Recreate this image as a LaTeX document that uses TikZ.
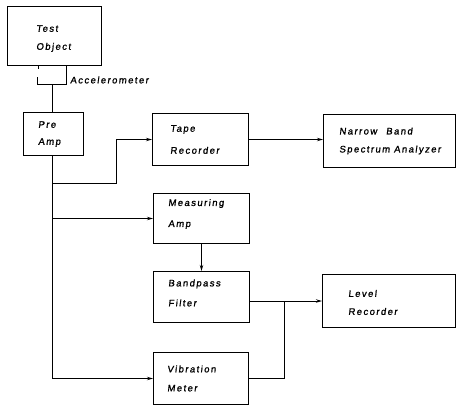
\documentclass[tikz,border=0pt]{standalone}
\usepackage{fontspec}
\setmainfont{Liberation Sans}[LetterSpace=15, FakeSlant=0.12, FakeBold=1.2]
\usetikzlibrary{arrows.meta}
\newcommand{\lf}[1]{\fontsize{9.5}{#1}\selectfont}
\begin{document}
\begin{tikzpicture}[x=1pt,y=-1pt,
  box/.style={draw, line width=1pt, inner sep=0pt, anchor=north west},
  txt/.style={align=left, inner sep=0pt, anchor=west, font=\lf{19}},
  wire/.style={line width=1pt},
  arr/.style={wire, -{Stealth[length=6pt,width=3.4pt]}}]
\useasboundingbox (0,0) rectangle (458,405);
% boxes
\node[box, minimum width=94pt, minimum height=59pt] (test) at (7,6) {};
\node[box, minimum width=60pt, minimum height=43pt] (pre) at (23,112) {};
\node[box, minimum width=96pt, minimum height=52pt] (tape) at (152,113) {};
\node[box, minimum width=132pt, minimum height=53pt] (nb) at (323,114) {};
\node[box, minimum width=96pt, minimum height=50pt] (meas) at (153,193) {};
\node[box, minimum width=96pt, minimum height=51pt] (bp) at (153,271) {};
\node[box, minimum width=133pt, minimum height=53pt] (lvl) at (322,274) {};
\node[box, minimum width=95pt, minimum height=52pt] (vib) at (153,352) {};
% texts
\node[txt, font=\lf{18}] (testt) at ([xshift=29pt,yshift=-2.5pt]test.west) {Test\\Object};
\node[txt, font=\lf{17}] (pret) at ([xshift=15pt]pre.west) {Pre\\Amp};
\node[txt, font=\lf{22}] (tapet) at ([xshift=18pt]tape.west) {Tape\\Recorder};
\node[txt, font=\lf{18}] (nbt) at ([xshift=16pt]nb.west) {Narrow\hspace{5pt} Band\\Spectrum Analyzer};
\node[txt, font=\lf{21}] (meast) at ([xshift=15pt,yshift=4.5pt]meas.west) {Measuring\\Amp};
\node[txt, font=\lf{20}] (bpt) at ([xshift=15pt,yshift=4pt]bp.west) {Bandpass\\Filter};
\node[txt, font=\lf{18}] (lvlt) at ([xshift=26pt,yshift=-1.5pt]lvl.west) {Level\\Recorder};
\node[txt, font=\lf{19}] (vibt) at ([xshift=14pt]vib.west) {Vibration\\Meter};
% accelerometer
\draw[wire] (38,65) -- (38,69);
\draw[wire] (37,77) -- (37,84) -- (66,84) -- (66,65);
\coordinate (acc) at (52,84);
\node[txt] (acct) at (70,80) {Accelerometer};
\draw[wire] (acc) -- (acc |- pre.north);
% connectors
\draw[arr] (acc |- pre.south) |- (vib.west);
\coordinate (jt) at (116,183);
\draw[arr] (acc |- jt) -- (jt) |- (tape.west);
\draw[arr] (acc |- meas.west) -- (meas.west);
\draw[arr] (tape.east) -- (nb.west |- tape.east);
\draw[arr] (meas.south) -- (meas.south |- bp.north);
\coordinate (jr) at (284,300);
\draw[arr] (bp.east |- lvl.west) -- (lvl.west);
\draw[wire] (vib.east) -| (jr |- lvl.west);
\end{tikzpicture}
\end{document}
